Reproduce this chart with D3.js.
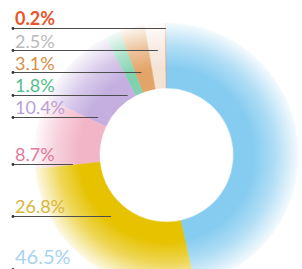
<!DOCTYPE html>
<html>
<head>
<meta charset="utf-8">
<script src="https://cdn.jsdelivr.net/npm/d3@7"></script>
<style>
  html, body { margin: 0; padding: 0; background: #fff; overflow: hidden; }
  text { font-family: Lato, "Open Sans", sans-serif; }
</style>
</head>
<body>
<svg width="302" height="269"></svg>
<script>
// shares, top to bottom as in the label column
var labels = ["0.2%", "2.5%", "3.1%", "1.8%", "10.4%", "8.7%", "26.8%", "46.5%"];
var values = [0.2, 2.5, 3.1, 1.8, 10.4, 8.7, 26.8, 46.5];
var sliceColors = ["#e85d26", "#f4e4d6", "#e3a468", "#7ed3ae", "#c4afe0", "#f2b5c8", "#e6c200", "#86ccf0"];
var textColors = ["#e8552a", "#b9b9b9", "#d98c45", "#4fbf8a", "#b9a0d6", "#e07a98", "#d8b53a", "#a6d3ef"];

var svg = d3.select("svg"),
    cx = 166.5, cy = 155,
    innerR = 67, outerR = 132;

// label rows (baseline of text, y of leader line)
var rowY = [25, 48, 70, 92, 114, 161, 213, 264];
var lineY = [28.5, 50.5, 72.5, 95.5, 117.5, 164.5, 216.5, 269.5];

var defs = svg.append("defs");
var fade = defs.append("radialGradient")
        .attr("id", "fade")
        .attr("gradientUnits", "userSpaceOnUse")
        .attr("cx", 0).attr("cy", 0).attr("r", outerR + 4);
fade.append("stop").attr("offset", 0.64).attr("stop-color", "#fff").attr("stop-opacity", 0);
fade.append("stop").attr("offset", 0.8).attr("stop-color", "#fff").attr("stop-opacity", 0.35);
fade.append("stop").attr("offset", 1).attr("stop-color", "#fff").attr("stop-opacity", 1);

// counter-clockwise from 12 o'clock so the big blue share sits on the right
var pie = d3.pie().sort(null).startAngle(2 * Math.PI).endAngle(0)
        .value(function (d) { return d; });
var arcs = pie(values);

var arc = d3.arc().innerRadius(innerR).outerRadius(outerR);

var g = svg.append("g").attr("transform", "translate(" + cx + "," + cy + ")");

g.selectAll("path.slice")
        .data(arcs)
        .enter().append("path")
        .attr("class", "slice")
        .attr("d", arc)
        .attr("fill", function (d, i) { return sliceColors[i]; })
        .attr("stroke", function (d, i) { return sliceColors[i]; })
        .attr("stroke-width", 0.5);

// white fade towards the outer rim
g.append("path")
        .attr("d", d3.arc().innerRadius(innerR - 1).outerRadius(outerR + 6).startAngle(0).endAngle(2 * Math.PI)())
        .attr("fill", "url(#fade)");

// leader lines end above the middle of each slice
var midR = 95;
function endX(d) {
    var a = (d.startAngle + d.endAngle) / 2;
    return cx + midR * Math.sin(a);
}

var lab = svg.append("g");

lab.selectAll("line")
        .data(arcs)
        .enter().append("line")
        .attr("x1", 13)
        .attr("x2", function (d) { return endX(d); })
        .attr("y1", function (d, i) { return lineY[i]; })
        .attr("y2", function (d, i) { return lineY[i]; })
        .attr("stroke", "#4d4d4d")
        .attr("stroke-width", 1);

lab.selectAll("circle")
        .data(arcs)
        .enter().append("circle")
        .attr("cx", 13)
        .attr("cy", function (d, i) { return lineY[i]; })
        .attr("r", 1.4)
        .attr("fill", "#333");

lab.selectAll("text")
        .data(labels)
        .enter().append("text")
        .attr("x", 15)
        .attr("y", function (d, i) { return rowY[i]; })
        .attr("fill", function (d, i) { return textColors[i]; })
        .style("font-size", function (d, i) { return i === labels.length - 1 ? "20px" : "18px"; })
        .style("font-weight", function (d, i) { return i === 0 ? 700 : 400; })
        .text(function (d) { return d; });
</script>
</body>
</html>
